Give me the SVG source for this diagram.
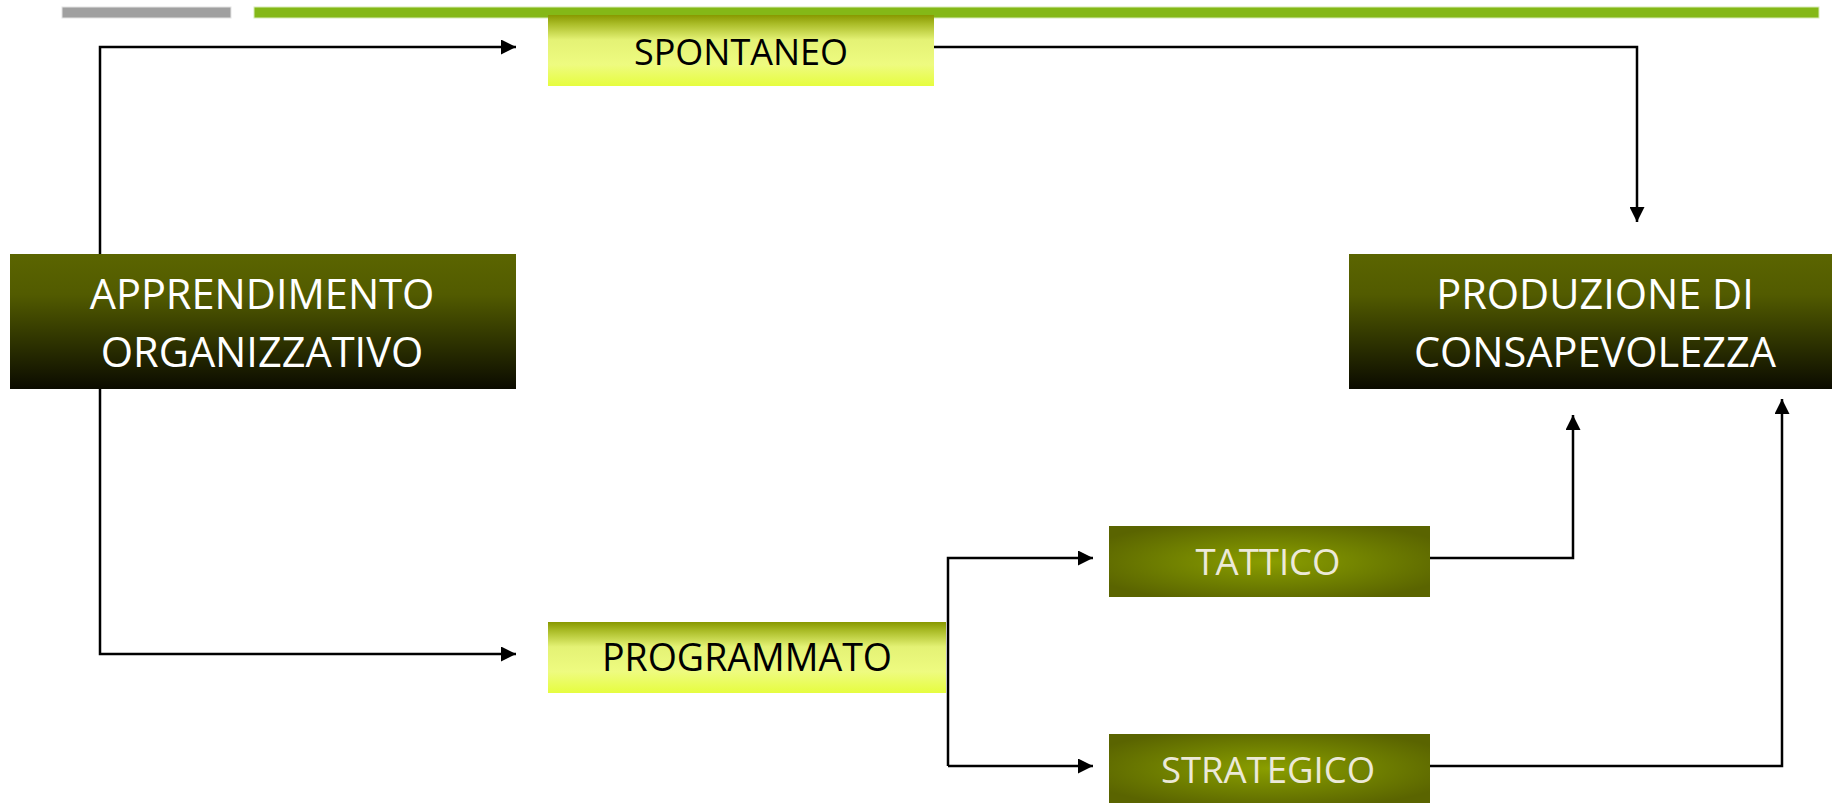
<svg xmlns="http://www.w3.org/2000/svg" width="1832" height="803" viewBox="0 0 1832 803">
  <style>
    .conn { fill: none; stroke: #000; stroke-width: 2.5; }
    .lbl { font-family: "Open Sans", "Liberation Sans", sans-serif; text-anchor: middle; }
    .big { font-size: 41.5px; fill: #ffffff; }
    .mid { font-size: 36px; fill: #000000; }
    .sub { font-size: 36.5px; fill: #ece9d8; }
  </style>
  <defs>
    <linearGradient id="gDark" x1="0" y1="0" x2="0" y2="1">
      <stop offset="0" stop-color="#5b6500"/>
      <stop offset="0.3" stop-color="#525b00"/>
      <stop offset="0.65" stop-color="#2e3300"/>
      <stop offset="1" stop-color="#0b0b00"/>
    </linearGradient>
    <linearGradient id="gLight" x1="0" y1="0" x2="0" y2="1">
      <stop offset="0" stop-color="#889800"/>
      <stop offset="0.12" stop-color="#a9bb26"/>
      <stop offset="0.35" stop-color="#e4f275"/>
      <stop offset="0.7" stop-color="#eefb80"/>
      <stop offset="1" stop-color="#e6fd3f"/>
    </linearGradient>
    <radialGradient id="gGlow" cx="0.5" cy="0.5" r="0.6">
      <stop offset="0" stop-color="#8a9e00"/>
      <stop offset="0.55" stop-color="#6f7f00"/>
      <stop offset="1" stop-color="#5a6400"/>
    </radialGradient>
    <marker id="arrow" viewBox="0 0 15 15" refX="15" refY="7.5" markerWidth="15" markerHeight="15" markerUnits="userSpaceOnUse" orient="auto">
      <path d="M0,0 L15,7.5 L0,15 z" fill="#000"/>
    </marker>
  </defs>

  <rect width="1832" height="803" fill="#ffffff"/>

  <!-- header rules -->
  <g id="header">
    <rect x="62" y="7" width="169" height="11" fill="#a0a0a0" stroke="#e4e4e4" stroke-width="1"/>
    <rect x="254" y="7" width="1565" height="11" fill="#84b817" stroke="#d8ecb8" stroke-width="1"/>
  </g>

  <g id="apprendimento">
    <rect x="10" y="254" width="506" height="135" fill="url(#gDark)"/>
    <text class="lbl big" x="262" y="309">APPRENDIMENTO</text>
    <text class="lbl big" x="262" y="367">ORGANIZZATIVO</text>
  </g>

  <g id="produzione">
    <rect x="1349" y="254" width="483" height="135" fill="url(#gDark)"/>
    <text class="lbl big" x="1595" y="309">PRODUZIONE DI</text>
    <text class="lbl big" x="1595" y="367">CONSAPEVOLEZZA</text>
  </g>

  <g id="spontaneo">
    <rect x="548" y="15" width="386" height="71" fill="url(#gLight)"/>
    <text class="lbl mid" x="741" y="65">SPONTANEO</text>
  </g>

  <g id="programmato">
    <rect x="548" y="622" width="398" height="71" fill="url(#gLight)"/>
    <text class="lbl mid" x="747" y="671" style="font-size:37.5px">PROGRAMMATO</text>
  </g>

  <g id="tattico">
    <rect x="1109" y="526" width="321" height="71" fill="url(#gGlow)"/>
    <text class="lbl sub" x="1268" y="575">TATTICO</text>
  </g>

  <g id="strategico">
    <rect x="1109" y="734" width="321" height="69" fill="url(#gGlow)"/>
    <text class="lbl sub" x="1268" y="783">STRATEGICO</text>
  </g>

  <!-- connectors -->
  <g id="connectors">
    <path class="conn" d="M100,254 V47 H516" marker-end="url(#arrow)"/>
    <path class="conn" d="M100,389 V654 H516" marker-end="url(#arrow)"/>
    <path class="conn" d="M934,47 H1637 V222" marker-end="url(#arrow)"/>
    <path class="conn" d="M948,766 V558 H1093" marker-end="url(#arrow)"/>
    <path class="conn" d="M948,766 H1093" marker-end="url(#arrow)"/>
    <path class="conn" d="M1430,558 H1573 V415" marker-end="url(#arrow)"/>
    <path class="conn" d="M1430,766 H1782 V399" marker-end="url(#arrow)"/>
  </g>
</svg>
